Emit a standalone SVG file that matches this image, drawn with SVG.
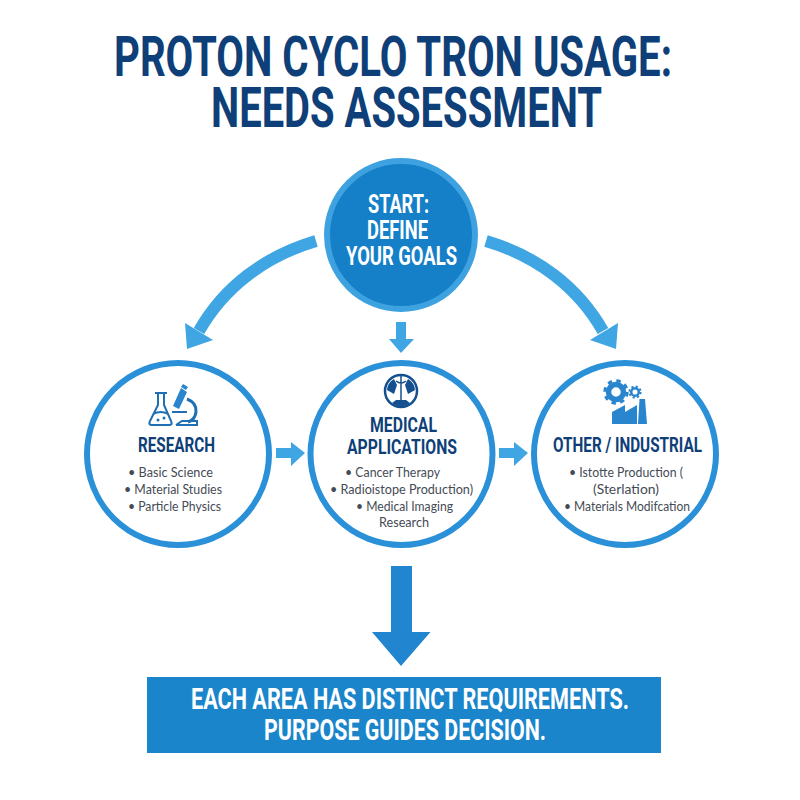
<svg xmlns="http://www.w3.org/2000/svg" width="800" height="800" viewBox="0 0 800 800">
<style>
.h{font-family:"Roboto","Liberation Sans",sans-serif;font-weight:700;text-anchor:middle}
.b{font-family:"Lato","Liberation Sans",sans-serif;font-size:13.5px;fill:#454b55;text-anchor:middle}
.ring{fill:#fff;stroke:#2a90d8;stroke-width:6}
.t{fill:#0f3f78}
.ln{fill:none;stroke:#3fa6e3}
.ic{fill:none;stroke:#1f6fb5;stroke-width:2}
.if{fill:#2a85cf}
.g{fill:none;stroke:#2a85cf}
.hd{font-size:21px}
.tt{font-size:55px}
.w{font-size:25px;fill:#fff}
.s{font-size:29px;fill:#fff}
</style>
<rect width="800" height="800" fill="#fff"/>
<g id="title" class="t">
<text class="h tt" x="393" y="76" textLength="558" lengthAdjust="spacingAndGlyphs">PROTON CYCLO TRON USAGE:</text>
<text class="h tt" x="406.500" y="126.500" textLength="391" lengthAdjust="spacingAndGlyphs">NEEDS ASSESSMENT</text>
</g>
<g id="connectors">
<path class="ln" stroke-width="12" d="M316 241C265 256 224 287 199 331"/>
<path d="M185 323L213 340L187 349Z" fill="#3fa6e3"/>
<path class="ln" stroke-width="12" d="M486 241C537 256 578 287 603 331"/>
<path d="M618 323L616 349L590 340Z" fill="#3fa6e3"/>
<path d="M396 322H406V339H414L401 353L389 339H396Z" fill="#3fa6e3"/>
<path d="M276 448H291V442L305 453L291 466V458H276Z" fill="#3fa6e3"/>
<path d="M499 448H514V442L528 453L514 466V458H499Z" fill="#3fa6e3"/>
<path d="M391 566H412V632H430.500L401 666L372 632H391Z" fill="#2186cf"/>
</g>
<g id="start">
<circle cx="401" cy="235" r="74" fill="#1580c8" stroke="#3fa2e0" stroke-width="6"/>
<text class="h w" x="398.500" y="213" textLength="61" lengthAdjust="spacingAndGlyphs">START:</text>
<text class="h w" x="397.500" y="238.500" textLength="61" lengthAdjust="spacingAndGlyphs">DEFINE</text>
<text class="h w" x="401.500" y="265" textLength="111" lengthAdjust="spacingAndGlyphs">YOUR GOALS</text>
</g>
<g id="research">
<circle class="ring" cx="178" cy="454" r="91"/>
<path class="ic" d="M155 393H167M158 393V405L150 421Q148 425 152 425H169Q173 425 171 421L164 405V393M153 414Q161 410 168 414"/>
<path class="if" d="M173 406L179 409L187 392L181 388Z M183 384L188 387L186 390L181 387Z"/>
<path d="M187 399Q197 403 196 412Q195 420 188 422" fill="none" stroke="#1f6fb5" stroke-width="3"/>
<path class="ic" d="M172 412H187M176 425H197V421H182L176 425"/>
<circle cx="158" cy="420" r="1.500" fill="#1f6fb5"/><circle cx="164" cy="418" r="1.500" fill="#1f6fb5"/>
<text class="h t hd" x="176.500" y="452" textLength="77" lengthAdjust="spacingAndGlyphs">RESEARCH</text>
<text class="b" x="170.500" y="477" textLength="85" lengthAdjust="spacingAndGlyphs">• Basic Science</text>
<text class="b" x="173" y="494" textLength="98" lengthAdjust="spacingAndGlyphs">• Material Studies</text>
<text class="b" x="174.500" y="511" textLength="93" lengthAdjust="spacingAndGlyphs">• Particle Physics</text>
</g>
<g id="medical">
<circle class="ring" cx="401.500" cy="454" r="91"/>
<circle cx="401" cy="391" r="16" fill="none" stroke="#14508f" stroke-width="2.500"/>
<path d="M394 394L387 390A14 14 0 0 1 394 379L397 385Z M408 394L415 390A14 14 0 0 0 408 379L405 385Z M396 400L392 403A14 14 0 0 0 410 403L406 400Z" fill="#14508f"/>
<path d="M401 375V402M396 381Q401 385 406 381" fill="none" stroke="#14508f" stroke-width="1.500"/>
<text class="h t hd" x="403.500" y="432" textLength="67" lengthAdjust="spacingAndGlyphs">MEDICAL</text>
<text class="h t hd" x="402" y="454" textLength="110" lengthAdjust="spacingAndGlyphs">APPLICATIONS</text>
<text class="b" x="392.500" y="477" textLength="95" lengthAdjust="spacingAndGlyphs">• Cancer Therapy</text>
<text class="b" x="401.500" y="494" textLength="143" lengthAdjust="spacingAndGlyphs">• Radioistope Production)</text>
<text class="b" x="404.500" y="511" textLength="97" lengthAdjust="spacingAndGlyphs">• Medical Imaging</text>
<text class="b" x="404" y="527" textLength="50" lengthAdjust="spacingAndGlyphs">Research</text>
</g>
<g id="industrial">
<circle class="ring" cx="625" cy="454" r="91"/>
<circle class="g" cx="616" cy="392" r="7.500" stroke-width="5.500"/>
<circle class="g" cx="616" cy="392" r="11.200" stroke-width="3" stroke-dasharray="4.400 4.400"/>
<circle class="g" cx="635" cy="392" r="3.800" stroke-width="2.500"/>
<circle class="g" cx="635" cy="392" r="5.600" stroke-width="2" stroke-dasharray="2.200 2.200"/>
<path class="if" d="M612 424V412L625 405V412L637 405V424Z M638 424L639.500 399H645L647 424Z"/>
<text class="h t hd" x="627.500" y="452" textLength="149" lengthAdjust="spacingAndGlyphs">OTHER / INDUSTRIAL</text>
<text class="b" x="626" y="477" textLength="114" lengthAdjust="spacingAndGlyphs">• Istotte Production (</text>
<text class="b" x="626" y="494" textLength="66" lengthAdjust="spacingAndGlyphs">(Sterlation)</text>
<text class="b" x="627" y="511" textLength="126" lengthAdjust="spacingAndGlyphs">• Materials Modifcation</text>
</g>
<g id="summary">
<rect x="147" y="677" width="514" height="76" fill="#1a85cb"/>
<text class="h s" x="410" y="709" textLength="438" lengthAdjust="spacingAndGlyphs">EACH AREA HAS DISTINCT REQUIREMENTS.</text>
<text class="h s" x="405" y="739.500" textLength="282" lengthAdjust="spacingAndGlyphs">PURPOSE GUIDES DECISION.</text>
</g>
</svg>
